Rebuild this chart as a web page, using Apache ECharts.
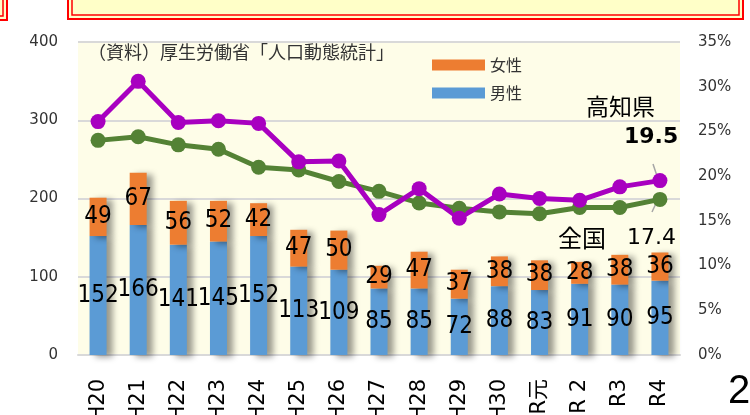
<!DOCTYPE html>
<html>
<head>
<meta charset="utf-8">
<script src="https://cdn.jsdelivr.net/npm/echarts@6/dist/echarts.min.js"></script>
<style>
  html, body { margin: 0; padding: 0; background: #fff; }
  #chart { width: 750px; height: 415px; }
</style>
</head>
<body>
<div id="chart"></div>
<script>
// 年次
var years = ['H20', 'H21', 'H22', 'H23', 'H24', 'H25', 'H26', 'H27', 'H28', 'H29', 'H30', 'R元', 'R 2', 'R3', 'R4'];
// 高知県の自殺者数（人）
var male = [152, 166, 141, 145, 152, 113, 109, 85, 85, 72, 88, 83, 91, 90, 95];
var female = [49, 67, 56, 52, 42, 47, 50, 29, 47, 37, 38, 38, 28, 38, 36];
// 自殺死亡率（右軸）
var kochiRate = [26.1, 30.6, 26.0, 26.2, 25.9, 21.6, 21.7, 15.7, 18.6, 15.3, 18.0, 17.5, 17.3, 18.8, 19.5];
var zenkokuRate = [24.0, 24.4, 23.5, 23.0, 21.0, 20.7, 19.4, 18.3, 17.0, 16.4, 16.0, 15.8, 16.5, 16.5, 17.4];

var chart = echarts.init(document.getElementById('chart'));

var numFont = '"DejaVu Sans"';
var condFont = '"DejaVu Sans Condensed", "DejaVu Sans"';
var jpFont = '"Noto Sans CJK JP", sans-serif';

var barShadow = {
  shadowColor: 'rgba(0,0,0,0.4)',
  shadowBlur: 6,
  shadowOffsetX: 6,
  shadowOffsetY: 2
};

var option = {
  animation: false,
  backgroundColor: '#fff',
  grid: {
    left: 78, right: 70, top: 42, bottom: 60,
    outerBoundsMode: 'none',
    show: true, backgroundColor: '#fefde8', borderWidth: 0
  },
  legend: {
    data: ['女性', '男性'],
    orient: 'vertical',
    left: 427, top: 52,
    itemWidth: 53, itemHeight: 11, itemGap: 12,
    icon: 'rect',
    textStyle: { fontSize: 16, color: '#333', fontFamily: jpFont }
  },
  xAxis: {
    type: 'category',
    data: years,
    axisTick: { show: false },
    axisLine: { lineStyle: { color: '#d9d9d9', width: 2 } },
    axisLabel: { rotate: 90, margin: 24, fontSize: 21, color: '#000', fontFamily: numFont + ', ' + jpFont }
  },
  yAxis: [{
    type: 'value', min: 0, max: 400, interval: 100,
    axisLabel: { fontSize: 15, color: '#333', fontFamily: numFont, margin: 20 },
    splitLine: { lineStyle: { color: '#d9d9d9', width: 2 } }
  }, {
    type: 'value', min: 0, max: 35, interval: 5,
    axisLabel: { formatter: '{value}%', fontSize: 15, color: '#333', fontFamily: numFont, margin: 18 },
    splitLine: { show: false }
  }],
  graphic: [
    { type: 'rect', shape: { x: -10, y: -10, width: 17, height: 30 }, style: { fill: '#ffffc8', stroke: '#ff0000', lineWidth: 2 } },
    { type: 'rect', shape: { x: -10, y: -10, width: 13, height: 26 }, style: { fill: 'none', stroke: '#ff0000', lineWidth: 1.5 } },
    { type: 'rect', shape: { x: 68, y: -10, width: 675, height: 29 }, style: { fill: '#ffffc8', stroke: '#ff0000', lineWidth: 2 } },
    { type: 'rect', shape: { x: 72, y: -10, width: 667, height: 25 }, style: { fill: 'none', stroke: '#ff0000', lineWidth: 1.5 } },
    { type: 'text', left: 88, top: 43, style: { text: '（資料）厚生労働省「人口動態統計」', fontSize: 18, fill: '#333', fontFamily: jpFont } },
    { type: 'text', left: 586, top: 95, style: { text: '高知県', fontSize: 23, fill: '#000', fontFamily: jpFont } },
    { type: 'text', left: 624, top: 126, style: { text: '19.5', fontSize: 22, fontWeight: 'bold', fill: '#000', fontFamily: numFont } },
    { type: 'text', left: 558, top: 226, style: { text: '全国', fontSize: 24, fill: '#000', fontFamily: jpFont } },
    { type: 'text', left: 627, top: 227, style: { text: '17.4', fontSize: 22, fill: '#000', fontFamily: numFont } },
    { type: 'line', shape: { x1: 653, y1: 164, x2: 658, y2: 179 }, style: { stroke: '#a6a6a6', lineWidth: 1.5 } },
    { type: 'line', shape: { x1: 652, y1: 212, x2: 658, y2: 199 }, style: { stroke: '#a6a6a6', lineWidth: 1.5 } },
    { type: 'text', left: 728, top: 372, style: { text: '2', fontSize: 40, fill: '#000', fontFamily: 'Liberation Sans' } }
  ],
  series: [{
    name: '男性', type: 'bar', stack: 'n', data: male, barWidth: 17,
    itemStyle: Object.assign({ color: '#5b9bd5' }, barShadow),
    label: { show: true, position: 'inside', color: '#000', fontSize: 24, fontFamily: condFont }
  }, {
    name: '女性', type: 'bar', stack: 'n', data: female, barWidth: 17,
    itemStyle: Object.assign({ color: '#ed7d31' }, barShadow),
    label: { show: true, position: 'inside', color: '#000', fontSize: 24, fontFamily: condFont }
  }, {
    name: '全国', type: 'line', yAxisIndex: 1, data: zenkokuRate,
    symbol: 'circle', symbolSize: 15,
    lineStyle: { color: '#548235', width: 5 },
    itemStyle: { color: '#548235' }
  }, {
    name: '高知県', type: 'line', yAxisIndex: 1, data: kochiRate,
    symbol: 'circle', symbolSize: 15,
    lineStyle: { color: '#a800c0', width: 5 },
    itemStyle: { color: '#a800c0' }
  }]
};

chart.setOption(option);
</script>
</body>
</html>
